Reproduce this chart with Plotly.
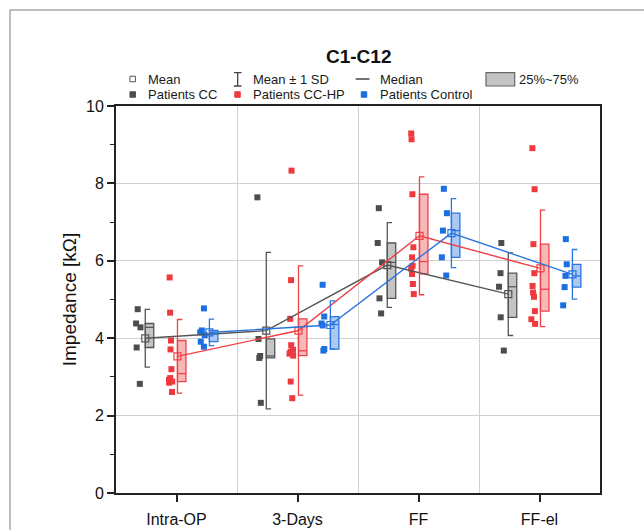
import numpy as np
import plotly.graph_objects as go

# ---------------- data ----------------
categories = ["Intra-OP", "3-Days", "FF", "FF-el"]
group_names = ["Patients CC", "Patients CC-HP", "Patients Control"]

patients_cc = [
    [4.75, 4.38, 4.28, 3.76, 2.82],
    [7.64, 3.98, 3.54, 3.49, 2.33],
    [7.36, 6.46, 5.96, 5.03, 4.64],
    [6.46, 5.68, 5.33, 4.54, 3.68],
]
patients_cchp = [
    [5.57, 4.66, 3.94, 3.71, 3.20, 2.97, 2.92, 2.88, 2.85, 2.61],
    [8.33, 5.50, 4.50, 3.82, 3.70, 3.65, 3.60, 3.55, 2.88, 2.45],
    [9.29, 9.14, 7.72, 6.35, 6.09, 5.87, 5.80, 5.66, 5.40, 5.14],
    [8.91, 7.85, 6.43, 5.68, 5.35, 5.18, 5.07, 4.70, 4.49, 4.37],
]
patients_control = [
    [4.77, 4.20, 4.15, 4.08, 3.91, 3.78],
    [5.38, 4.56, 4.38, 4.33, 3.72, 3.68],
    [7.86, 7.23, 6.78, 6.09, 5.62],
    [6.56, 5.91, 5.61, 5.32, 4.85],
]
y_tick_values = [0, 2, 4, 6, 8, 10]

# ---------------- styling ----------------
groups = [patients_cc, patients_cchp, patients_control]
offsets = [-0.258, 0.008, 0.272]       # bracket / mean position relative to category
point_shift = -0.057                   # points column left of the box
box_w = 0.07
cap = 0.04
pt_col = ["#4d4d4d", "#ee3a3f", "#1c6fe0"]
ln_col = ["#555555", "#ee4045", "#2a76e0"]
fill_col = ["#c4c4c4", "#f7b8ba", "#abc9f2"]
FONT = "Liberation Sans, Arial, sans-serif"

L, R, T, B = 116, 44, 106, 37
W, H = 644, 530
PW, PH = W - L - R, H - T - B


def px(x):
    return (x - L) / PW


def py(y):
    return (H - B - y) / PH


def hinges(v):
    s = sorted(v)
    n = len(s)
    med = float(np.median(s))
    if n % 2:
        lo, hi = s[: n // 2 + 1], s[n // 2:]
    else:
        lo, hi = s[: n // 2], s[n // 2:]
    return float(np.median(lo)), med, float(np.median(hi))


fig = go.Figure()
pos = np.arange(1, len(categories) + 1)

for g, data in enumerate(groups):
    bx = pos + offsets[g]
    q1s, meds, q3s, means, sds = [], [], [], [], []
    for vals in data:
        a, m, b = hinges(vals)
        q1s.append(a); meds.append(m); q3s.append(b)
        means.append(float(np.mean(vals)))
        sds.append(float(np.std(vals, ddof=1)))
    q1s, q3s = np.array(q1s), np.array(q3s)

    # 25%~75% boxes
    fig.add_trace(go.Bar(
        x=bx + box_w / 2, y=q3s - q1s, base=q1s, width=box_w,
        marker=dict(color=fill_col[g], line=dict(color=ln_col[g], width=1.3)),
        hoverinfo="skip", showlegend=False))

    # medians
    mx, my = [], []
    for i in range(len(categories)):
        mx += [bx[i], bx[i] + box_w, None]
        my += [meds[i], meds[i], None]
    fig.add_trace(go.Scatter(x=mx, y=my, mode="lines",
                             line=dict(color=ln_col[g], width=1.3),
                             hoverinfo="skip", showlegend=False))

    # raw points (library jitter)
    xs, ys = [], []
    for i, vals in enumerate(data):
        xs += [bx[i] + point_shift] * len(vals)
        ys += list(vals)
    fig.add_trace(go.Box(
        x=xs, y=ys, boxpoints="all", jitter=0.9, pointpos=0, width=0.05,
        fillcolor="rgba(0,0,0,0)", line=dict(width=0, color="rgba(0,0,0,0)"),
        marker=dict(symbol="square", size=6, color=pt_col[g]),
        hoverinfo="skip", showlegend=False, name=group_names[g]))

    # mean +/- 1 SD brackets
    sx, sy = [], []
    for i in range(len(categories)):
        hi, lo = means[i] + sds[i], means[i] - sds[i]
        sx += [bx[i] + cap, bx[i], bx[i], bx[i] + cap, None]
        sy += [hi, hi, lo, lo, None]
    fig.add_trace(go.Scatter(x=sx, y=sy, mode="lines",
                             line=dict(color=ln_col[g], width=1.3),
                             hoverinfo="skip", showlegend=False))

    # mean line with open squares
    fig.add_trace(go.Scatter(
        x=bx, y=means, mode="lines+markers",
        line=dict(color=ln_col[g], width=1.4),
        marker=dict(symbol="square-open", size=7, color=ln_col[g], line=dict(width=1.2)),
        hoverinfo="skip", showlegend=False))

# ---------------- custom legend ----------------
shapes = []
ann = []
TXT = dict(family=FONT, size=13, color="#1a1a1a")


def sq(cx, cy, s, fill, line):
    shapes.append(dict(type="rect", xref="paper", yref="paper",
                       x0=px(cx - s / 2), x1=px(cx + s / 2),
                       y0=py(cy + s / 2), y1=py(cy - s / 2),
                       fillcolor=fill, line=dict(color=line, width=1)))


def label(x, y, t):
    ann.append(dict(x=px(x), y=py(y), xref="paper", yref="paper", text=t,
                    showarrow=False, xanchor="left", yanchor="middle",
                    font=TXT, borderpad=0))


r1, r2 = 79, 94.5
sq(132.7, r1, 5.5, "white", "#555555")
label(147, r1, "Mean")
shapes.append(dict(type="path", xref="paper", yref="paper",
                   path=f"M {px(234)},{py(72.7)} L {px(241.5)},{py(72.7)} M {px(237.7)},{py(72.7)} "
                        f"L {px(237.7)},{py(86)} M {px(234)},{py(86)} L {px(241.5)},{py(86)}",
                   line=dict(color="#444444", width=1.3)))
label(252, r1, "Mean ± 1 SD")
shapes.append(dict(type="line", xref="paper", yref="paper",
                   x0=px(355.7), x1=px(369.5), y0=py(r1), y1=py(r1),
                   line=dict(color="#444444", width=1.5)))
label(378.7, r1, "Median")
shapes.append(dict(type="rect", xref="paper", yref="paper",
                   x0=px(486), x1=px(514.7), y0=py(86), y1=py(72.7),
                   fillcolor="#c4c4c4", line=dict(color="#666666", width=1.2)))
label(517.8, r1, "25%~75%")

sq(132.7, r2, 5.5, pt_col[0], pt_col[0])
label(147, r2, group_names[0])
sq(237.5, r2, 5.5, pt_col[1], pt_col[1])
label(252, r2, group_names[1])
sq(364, r2, 5.5, pt_col[2], pt_col[2])
label(378.7, r2, group_names[2])

# outer grey frame
shapes.append(dict(type="rect", xref="paper", yref="paper",
                   x0=px(10), x1=px(700), y0=py(600), y1=py(10),
                   line=dict(color="#a8a8a8", width=1.5), fillcolor="rgba(0,0,0,0)",
                   layer="below"))

# title
ann.append(dict(x=0.5, y=py(57), xref="paper", yref="paper", text="<b>C1-C12</b>",
                showarrow=False, xanchor="center", yanchor="middle",
                font=dict(family=FONT, size=19, color="#111111")))

fig.update_layout(
    width=W, height=H,
    margin=dict(l=L, r=R, t=T, b=B, pad=0, autoexpand=False),
    paper_bgcolor="white", plot_bgcolor="white",
    barmode="overlay", boxmode="overlay",
    showlegend=False,
    shapes=shapes, annotations=ann,
    font=dict(family=FONT, color="#111111"),
)
fig.update_xaxes(
    range=[0.5, 4.5], tickvals=list(pos), ticktext=categories,
    automargin=False,
    showline=True, linecolor="#222222", linewidth=1.8, mirror=True,
    ticks="outside", ticklen=7, tickwidth=1.5, tickcolor="#222222",
    tickfont=dict(size=16, family=FONT, color="#111111"),
    ticklabelstandoff=4,
    showgrid=False, zeroline=False,
    minor=dict(tickvals=[1.5, 2.5, 3.5], showgrid=True, gridcolor="#d0d0d0",
               gridwidth=1, ticks=""),
)
fig.update_yaxes(
    range=[0, 10], tickvals=y_tick_values,
    automargin=False,
    showline=True, linecolor="#222222", linewidth=1.8, mirror=True,
    ticks="outside", ticklen=7, tickwidth=1.5, tickcolor="#222222",
    tickfont=dict(size=16, family=FONT, color="#111111"),
    showgrid=True, gridcolor="#d0d0d0", gridwidth=1, zeroline=False,
    minor=dict(dtick=1, ticks="outside", ticklen=4, tickwidth=1.2,
               tickcolor="#222222", showgrid=False),
    title=dict(text="Impedance [kΩ]", font=dict(size=19, family=FONT, color="#111111"),
               standoff=4),
)

fig.write_html(
    "out.html",
    config={"displayModeBar": False},
    post_script="document.body.style.margin='0';document.body.style.overflow='hidden';",
)
